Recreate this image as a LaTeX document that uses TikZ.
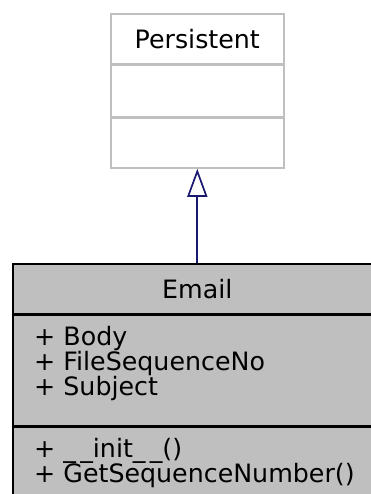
\documentclass[tikz,border=0pt]{standalone}
\usepackage{fontspec}
\setmainfont{DejaVu Sans}
\usetikzlibrary{arrows.meta,positioning}

\definecolor{edgeblue}{HTML}{191970}
\definecolor{classgray}{HTML}{BFBFBF}

\tikzset{
  compart/.style={rectangle,inner sep=0pt,anchor=north west,line width=1.6pt},
  basebox/.style={compart,draw=classgray,fill=white},
  classbox/.style={compart,draw=black,fill=classgray},
  member/.style={anchor=base west,inner sep=0pt},
  inherit/.style={draw=edgeblue,line width=1.7pt,-{Triangle[open,length=28pt,width=20pt,line width=1.7pt]}}
}

\begin{document}
\begin{tikzpicture}[x=1pt,y=-1pt,font=\fontsize{25.3}{25.3}\selectfont]
\useasboundingbox (0,0) rectangle (370,494);

% Base class
\node[basebox,minimum width=173pt,minimum height=50pt] (perstitle) at (110,13) {Persistent};
\node[basebox,minimum width=173pt,minimum height=51pt,below=0pt of perstitle] (persattr) {};
\node[basebox,minimum width=173pt,minimum height=50pt,below=0pt of persattr] (persmeth) {};

% Derived class (runs past the right and bottom edges)
\node[classbox,minimum width=369pt,minimum height=50pt] (emailtitle) at (12,263) {Email};
\node[classbox,minimum width=369pt,minimum height=110pt,below=0pt of emailtitle] (emailattr) {};
\node[classbox,minimum width=369pt,minimum height=87pt,below=0pt of emailattr] (emailmeth) {};

% Members
\node[member] (body) at (34,345) {+ Body};
\node[member] (fileseq) at (34,370) {+ FileSequenceNo};
\node[member] (subject) at (34,395) {+ Subject};
\node[member] (init) at (34,457) {+ \_\,\_init\_\,\_()};
\node[member] (getseq) at (34,482) {+ GetSequenceNumber()};

% Inheritance
\draw[inherit] (persmeth.south |- emailtitle.north) -- (persmeth.south);
\end{tikzpicture}
\end{document}
